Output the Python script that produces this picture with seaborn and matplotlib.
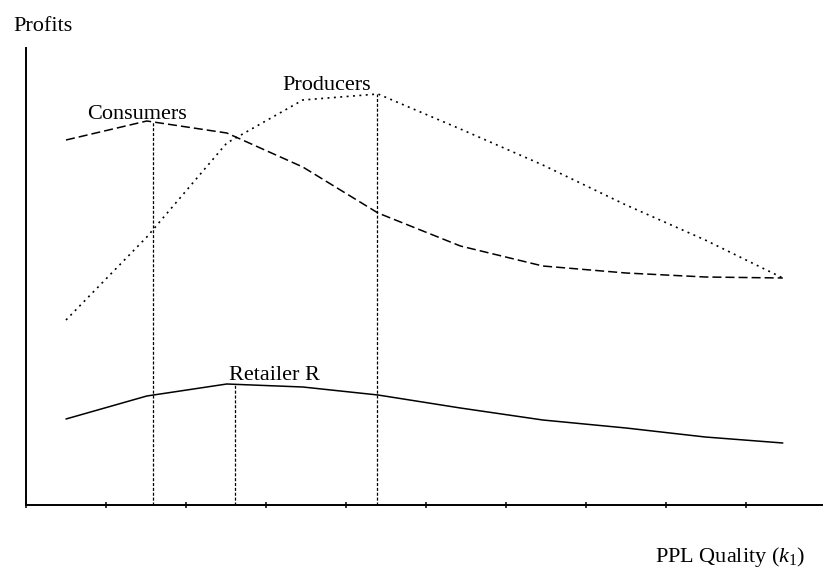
import matplotlib
matplotlib.use("Agg")
import matplotlib.pyplot as plt
import seaborn as sns
import pandas as pd

# quality levels (axis tick units) and profit readings for each party
quality = [0.5, 1.51, 2.51, 3.46, 4.4, 5.43, 6.46, 7.5, 8.49, 9.46]
consumers = [365, 384, 372, 338, 292, 259, 239, 232, 228, 227]
producers = [185, 268, 362, 405, 411, 376, 340, 300, 265, 227]
retailer = [86, 109, 121, 118, 110, 97, 85, 77, 68, 62]

# optimal quality for each party and the profit there
peak_quality = [1.59, 2.61, 4.39]
peak_profit = [384, 121, 411]

sns.set_style("white")
plt.rcParams["font.family"] = ["Liberation Serif", "DejaVu Serif"]
plt.rcParams["mathtext.fontset"] = "custom"
plt.rcParams["mathtext.rm"] = "Liberation Serif"
plt.rcParams["mathtext.it"] = "Liberation Serif:italic"
plt.rcParams["lines.scale_dashes"] = False
plt.rcParams["text.color"] = "black"

df = pd.DataFrame({"quality": quality, "Consumers": consumers,
                   "Producers": producers, "Retailer R": retailer})

fig = plt.figure(figsize=(8.23, 5.74), dpi=100)
ax = fig.add_axes([26 / 823, 69 / 574, 1 - 26 / 823, 457 / 574])

lw = 1.1
sns.lineplot(data=df, x="quality", y="Consumers", ax=ax, color="black",
             linewidth=lw, linestyle=(0, (6.5, 2.9)))
sns.lineplot(data=df, x="quality", y="Producers", ax=ax, color="black",
             linewidth=1.2, linestyle=(0, (1.4, 3.2)))
sns.lineplot(data=df, x="quality", y="Retailer R", ax=ax, color="black",
             linewidth=lw, linestyle="-")

ax.vlines(peak_quality, 0, peak_profit, colors="black", linewidth=0.9,
          linestyles=[(0, (2.2, 1.3))])

ax.set_xlim(0, 797 / 80)
ax.set_ylim(0, 457)
ax.set_xticks(range(10))
ax.set_xticklabels([])
ax.set_yticks([])
ax.set_xlabel("")
ax.set_ylabel("")
ax.tick_params(axis="x", direction="inout", length=5, width=1.1,
               color="black", bottom=True)
for side in ["top", "right"]:
    ax.spines[side].set_visible(False)
for side in ["left", "bottom"]:
    ax.spines[side].set_color("black")
    ax.spines[side].set_linewidth(1.4)

fs = 16
ax.text((87 - 26) / 80, 505 - 119, "Consumers", fontsize=fs, va="baseline")
ax.text((282 - 26) / 80, 505 - 90, "Producers", fontsize=fs, va="baseline")
ax.text((229 - 26) / 80, 505 - 380, "Retailer R", fontsize=fs, va="baseline")

fig.text(13 / 823, 1 - 31 / 574, "Profits", fontsize=fs, va="baseline")
fig.text(655 / 823, 1 - 562 / 574, r"PPL Quality ($\mathit{k}_{\mathit{1}}$)",
         fontsize=fs, va="baseline")

fig.savefig("out.png", dpi=100)
